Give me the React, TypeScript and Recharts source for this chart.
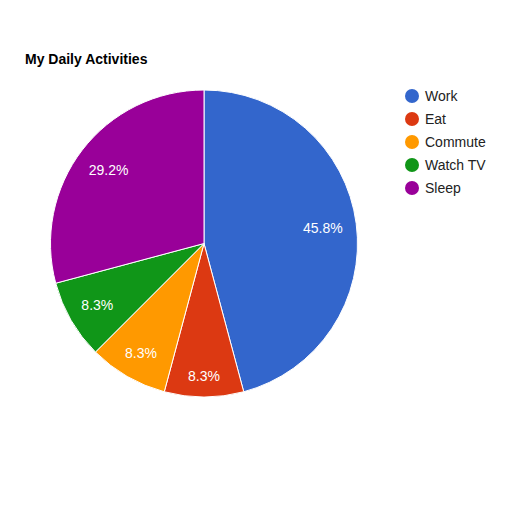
import React from "react";
import { PieChart, Pie, Cell } from "recharts";

const activities = ["Work", "Eat", "Commute", "Watch TV", "Sleep"];
const hoursPerDay = [11, 2, 2, 2, 7];
const colors = ["#3366cc", "#dc3912", "#ff9900", "#109618", "#990099"];

const data = activities.map((name, i) => ({ name, value: hoursPerDay[i] }));

const RAD = Math.PI / 180;
const font = "'Liberation Sans', Arial, sans-serif";
const LABEL_SIZE = 14;

// rough Arial advance widths (em) for the label characters
const charWidth = (c: string) =>
  c === "." ? 0.278 : c === "%" ? 0.889 : 0.556;

const renderLabel = (props: any) => {
  const { cx, cy, midAngle, outerRadius, percent } = props;
  const text = `${(percent * 100).toFixed(1)}%`;
  const hw =
    (text.split("").reduce((s, c) => s + charWidth(c), 0) * LABEL_SIZE) / 2;
  const hh = LABEL_SIZE / 2;
  // push the label box out along the mid angle until its far corner
  // sits a fixed distance inside the rim, like Google Charts does
  const ux = Math.cos(-midAngle * RAD);
  const uy = Math.sin(-midAngle * RAD);
  const D = outerRadius - 13;
  const b = Math.abs(ux) * hw + Math.abs(uy) * hh;
  const t = -b + Math.sqrt(b * b - (hw * hw + hh * hh - D * D));
  return (
    <text
      x={cx + t * ux}
      y={cy + t * uy}
      fill="#ffffff"
      textAnchor="middle"
      dominantBaseline="central"
      fontSize={LABEL_SIZE}
      fontFamily={font}
    >
      {text}
    </text>
  );
};

export default function App() {
  return (
    <div
      style={{
        position: "absolute",
        left: 0,
        top: 0,
        width: 512,
        height: 512,
        background: "#fff",
      }}
    >
      <div
        style={{
          position: "absolute",
          left: 25,
          top: 51,
          fontFamily: font,
          fontSize: 14,
          fontWeight: "bold",
          lineHeight: "16px",
          color: "#000",
        }}
      >
        My Daily Activities
      </div>
      <PieChart
        width={512}
        height={512}
        margin={{ top: 0, right: 0, bottom: 0, left: 0 }}
      >
        <Pie
          data={data}
          dataKey="value"
          nameKey="name"
          cx={204}
          cy={243.5}
          outerRadius={153.5}
          startAngle={90}
          endAngle={-270}
          stroke="#ffffff"
          strokeWidth={1}
          label={renderLabel}
          labelLine={false}
          isAnimationActive={false}
        >
          {data.map((d, i) => (
            <Cell key={d.name} fill={colors[i]} />
          ))}
        </Pie>
      </PieChart>
      <div
        style={{
          position: "absolute",
          left: 405,
          top: 84.5,
          fontFamily: font,
          fontSize: 14,
          color: "#222",
        }}
      >
        {data.map((d, i) => (
          <div
            key={d.name}
            style={{ display: "flex", alignItems: "center", height: 23 }}
          >
            <span
              style={{
                display: "inline-block",
                width: 14,
                height: 14,
                borderRadius: 7,
                background: colors[i],
                marginRight: 6,
              }}
            />
            <span>{d.name}</span>
          </div>
        ))}
      </div>
    </div>
  );
}
